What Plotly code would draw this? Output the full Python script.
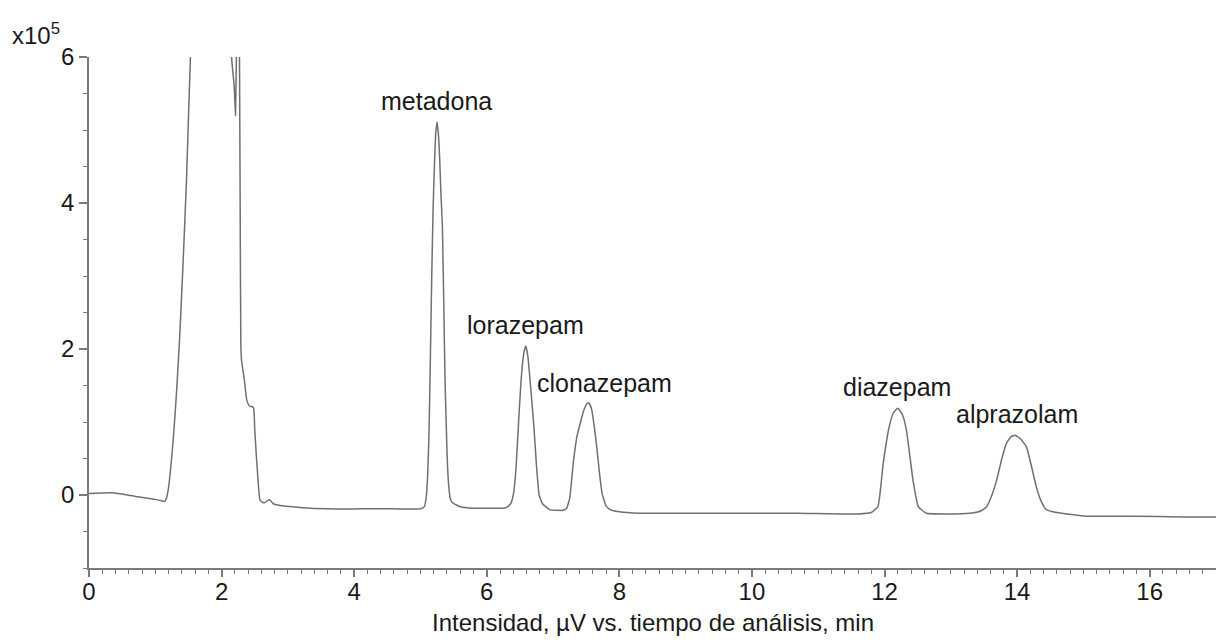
import plotly.graph_objects as go

# Chromatogram: retention time (min) and detector signal (x10^5 µV)
time_min = [
    0.00, 0.35, 0.70, 1.00, 1.10, 1.14, 1.17, 1.20, 1.23, 1.27, 1.32, 1.37, 1.42, 1.47, 1.53,
    1.60, 1.70, 1.90, 2.10, 2.15, 2.19, 2.21, 2.23, 2.25, 2.27, 2.28, 2.29, 2.30, 2.34, 2.38,
    2.42, 2.48, 2.50, 2.52, 2.55, 2.58, 2.64, 2.72, 2.78, 2.86, 3.18, 3.58, 4.10, 4.60, 5.00,
    5.06, 5.09, 5.11, 5.13, 5.15, 5.17, 5.19, 5.21, 5.23, 5.25, 5.27, 5.29, 5.31, 5.33, 5.35,
    5.37, 5.40, 5.42, 5.45, 5.49, 5.60, 5.80, 6.25, 6.30, 6.36, 6.40, 6.44, 6.48, 6.52, 6.56,
    6.59, 6.62, 6.66, 6.71, 6.75, 6.79, 6.84, 6.95, 7.15, 7.20, 7.25, 7.31, 7.36, 7.41, 7.46,
    7.51, 7.54, 7.58, 7.62, 7.66, 7.70, 7.74, 7.80, 7.86, 8.00, 8.30, 9.20, 10.00, 10.70, 11.60,
    11.80, 11.90, 11.98, 12.06, 12.13, 12.20, 12.27, 12.33, 12.43, 12.51, 12.63, 12.93, 13.29, 13.45, 13.54,
    13.62, 13.69, 13.77, 13.84, 13.91, 13.97, 14.05, 14.14, 14.22, 14.29, 14.36, 14.44, 14.60, 14.75, 15.05,
    15.75, 16.50, 17.00,
]
signal = [
    0.02, 0.03, -0.02, -0.06, -0.08, -0.09, -0.04, 0.10, 0.35, 0.75, 1.40, 2.20, 3.20, 4.30, 6.00,
    7.50, 8.50, 9.00, 8.00, 6.00, 5.60, 5.20, 6.50, 8.00, 6.00, 4.00, 2.10, 1.85, 1.60, 1.30,
    1.22, 1.20, 0.90, 0.60, 0.20, -0.07, -0.11, -0.06, -0.12, -0.14, -0.17, -0.19, -0.19, -0.19, -0.19,
    -0.16, 0.00, 0.30, 0.90, 1.90, 3.00, 3.90, 4.50, 4.95, 5.11, 4.95, 4.60, 4.10, 3.70, 2.70,
    1.60, 0.60, 0.20, -0.05, -0.11, -0.16, -0.18, -0.18, -0.17, -0.12, 0.00, 0.35, 1.00, 1.60, 1.95,
    2.04, 1.90, 1.50, 0.95, 0.40, 0.00, -0.12, -0.20, -0.21, -0.19, -0.05, 0.48, 0.80, 0.98, 1.15,
    1.25, 1.26, 1.18, 0.95, 0.65, 0.30, 0.02, -0.15, -0.20, -0.23, -0.25, -0.25, -0.25, -0.25, -0.26,
    -0.24, -0.16, 0.43, 0.89, 1.12, 1.19, 1.10, 0.89, 0.20, -0.16, -0.25, -0.26, -0.25, -0.22, -0.16,
    0.00, 0.20, 0.50, 0.71, 0.80, 0.82, 0.77, 0.66, 0.38, 0.11, -0.08, -0.20, -0.24, -0.26, -0.29,
    -0.29, -0.30, -0.30,
]

# Peak names and where their labels sit
peak_names = ["metadona", "lorazepam", "clonazepam", "diazepam", "alprazolam"]
label_time = [5.24, 6.585, 7.775, 12.19, 14.00]
label_level = [5.40, 2.33, 1.53, 1.48, 1.11]

x_tick_values = [0, 2, 4, 6, 8, 10, 12, 14, 16]
y_tick_values = [0, 2, 4, 6]

FONT = "Liberation Sans, Arial, sans-serif"
AXIS_GREY = "#7a7a7a"
TEXT = "#1a1a1a"

fig = go.Figure()
fig.add_trace(go.Scatter(
    x=time_min, y=signal, mode="lines",
    line=dict(color="#707070", width=1.5, shape="spline", smoothing=0.4),
    hoverinfo="skip", showlegend=False,
))

for name, tx, ty in zip(peak_names, label_time, label_level):
    fig.add_annotation(
        x=tx, y=ty, text=name, showarrow=False,
        xanchor="center", yanchor="middle",
        font=dict(family=FONT, size=25, color=TEXT),
    )

# Scale factor for the intensity axis
fig.add_annotation(
    xref="paper", yref="paper", x=-0.0705, y=1.045,
    text="x10<sup>5</sup>", showarrow=False, xanchor="left", yanchor="middle",
    font=dict(family=FONT, size=24, color=TEXT),
)
# Axis caption
fig.add_annotation(
    xref="paper", yref="paper", x=0.5, y=-0.106,
    text="Intensidad, µV vs. tiempo de análisis, min", showarrow=False,
    xanchor="center", yanchor="middle",
    font=dict(family=FONT, size=24, color=TEXT),
)

fig.update_xaxes(
    range=[0, 17], tickmode="array", tickvals=x_tick_values,
    ticks="outside", ticklen=7, tickwidth=1.5, tickcolor=AXIS_GREY,
    ticklabelstandoff=-6,
    minor=dict(dtick=0.2, tick0=0, ticks="outside", ticklen=4, tickwidth=1.2, tickcolor=AXIS_GREY),
    showline=True, linecolor=AXIS_GREY, linewidth=1.5,
    showgrid=False, zeroline=False,
    tickfont=dict(family=FONT, size=24, color=TEXT),
)
fig.update_yaxes(
    range=[-1, 6], tickmode="array", tickvals=y_tick_values,
    ticks="outside", ticklen=8, tickwidth=1.5, tickcolor=AXIS_GREY,
    minor=dict(dtick=0.5, tick0=0, ticks="outside", ticklen=4, tickwidth=1.2, tickcolor=AXIS_GREY),
    showline=True, linecolor=AXIS_GREY, linewidth=1.5,
    showgrid=False, zeroline=False,
    tickfont=dict(family=FONT, size=24, color=TEXT),
)

fig.update_layout(
    width=1216, height=643,
    margin=dict(l=89, r=0, t=57, b=75),
    plot_bgcolor="white", paper_bgcolor="white",
)

fig.write_html("out.html")
